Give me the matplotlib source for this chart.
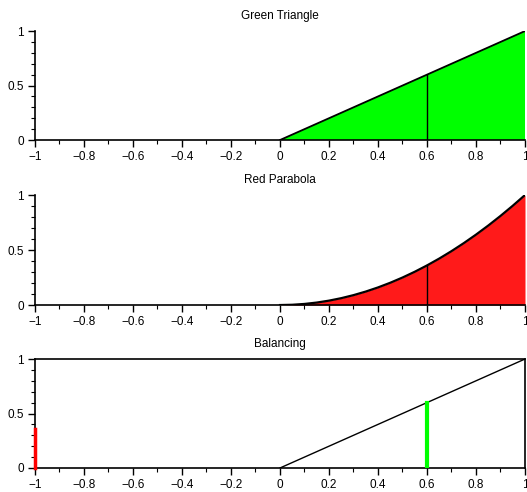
import numpy as np
import matplotlib.pyplot as plt
from matplotlib.ticker import MultipleLocator

plt.rcParams['font.family'] = ['Liberation Sans', 'DejaVu Sans']
plt.rcParams['font.size'] = 8.5

# data
tri_x = [0.0, 1.0, 1.0]
tri_y = [0.0, 0.0, 1.0]
par_x = [0.0, 0.05, 0.1, 0.15, 0.2, 0.25, 0.3, 0.35, 0.4, 0.45, 0.5,
         0.55, 0.6, 0.65, 0.7, 0.75, 0.8, 0.85, 0.9, 0.95, 1.0]
par_y = [0.0, 0.0025, 0.01, 0.0225, 0.04, 0.0625, 0.09, 0.1225, 0.16, 0.2025, 0.25,
         0.3025, 0.36, 0.4225, 0.49, 0.5625, 0.64, 0.7225, 0.81, 0.9025, 1.0]
pivot = 0.6
tri_at_pivot = 0.6
par_at_pivot = 0.36
bal_line_x = [0.0, 1.0]
bal_line_y = [0.0, 1.0]
green_bar = (0.6, 0.6)    # x, height
red_bar = (-1.0, 0.36)

x_ticks = [-1, -0.8, -0.6, -0.4, -0.2, 0, 0.2, 0.4, 0.6, 0.8, 1]
x_labels = ['\u22121', '\u22120.8', '\u22120.6', '\u22120.4', '\u22120.2',
            '0', '0.2', '0.4', '0.6', '0.8', '1']
y_ticks = [0, 0.5, 1]
y_labels = ['0', '0.5', '1']
titles = ['Green Triangle', 'Red Parabola', 'Balancing']

fig = plt.figure(figsize=(5.27, 4.92), dpi=100)
rects = [[0.0664, 0.7154, 0.9298, 0.2215],
         [0.0664, 0.3800, 0.9298, 0.2236],
         [0.0664, 0.0488, 0.9298, 0.2215]]
axes = [fig.add_axes(r) for r in rects]

for i, ax in enumerate(axes):
    ax.set_xlim(-1, 1)
    ax.set_ylim(0, 1)
    ax.set_xticks(x_ticks, x_labels)
    ax.set_yticks(y_ticks, y_labels)
    ax.xaxis.set_minor_locator(MultipleLocator(0.1))
    ax.yaxis.set_minor_locator(MultipleLocator(0.1))
    ax.tick_params(which='major', length=5, width=1, direction='out', pad=3)
    ax.tick_params(which='minor', length=3, width=0.8, direction='out')
    ax.set_title(titles[i], fontsize=8.5, pad=9)
    for s in ax.spines.values():
        s.set_linewidth(1.2)
    if i < 2:
        ax.spines['top'].set_visible(False)
        ax.spines['right'].set_visible(False)

# green triangle
ax = axes[0]
ax.fill(tri_x, tri_y, color='#00ff00', zorder=1)
ax.plot([0, 1], [0, 1], color='black', lw=1.3, zorder=2)
ax.plot([pivot, pivot], [0, tri_at_pivot], color='black', lw=1, zorder=2)

# red parabola
ax = axes[1]
ax.fill_between(par_x, 0, par_y, color='#ff1a1a', lw=0, zorder=1)
ax.plot(par_x, par_y, color='black', lw=1.6, zorder=2)
ax.plot([pivot, pivot], [0, par_at_pivot], color='black', lw=1, zorder=2)

# balancing
ax = axes[2]
ax.plot(bal_line_x, bal_line_y, color='black', lw=1, zorder=2)
ax.plot([green_bar[0]] * 2, [0, green_bar[1]], color='#00ff00', lw=3, zorder=3)
ax.plot([red_bar[0]] * 2, [0, red_bar[1]], color='red', lw=2.5, zorder=3, clip_on=False)

fig.savefig('out.png', dpi=100)
